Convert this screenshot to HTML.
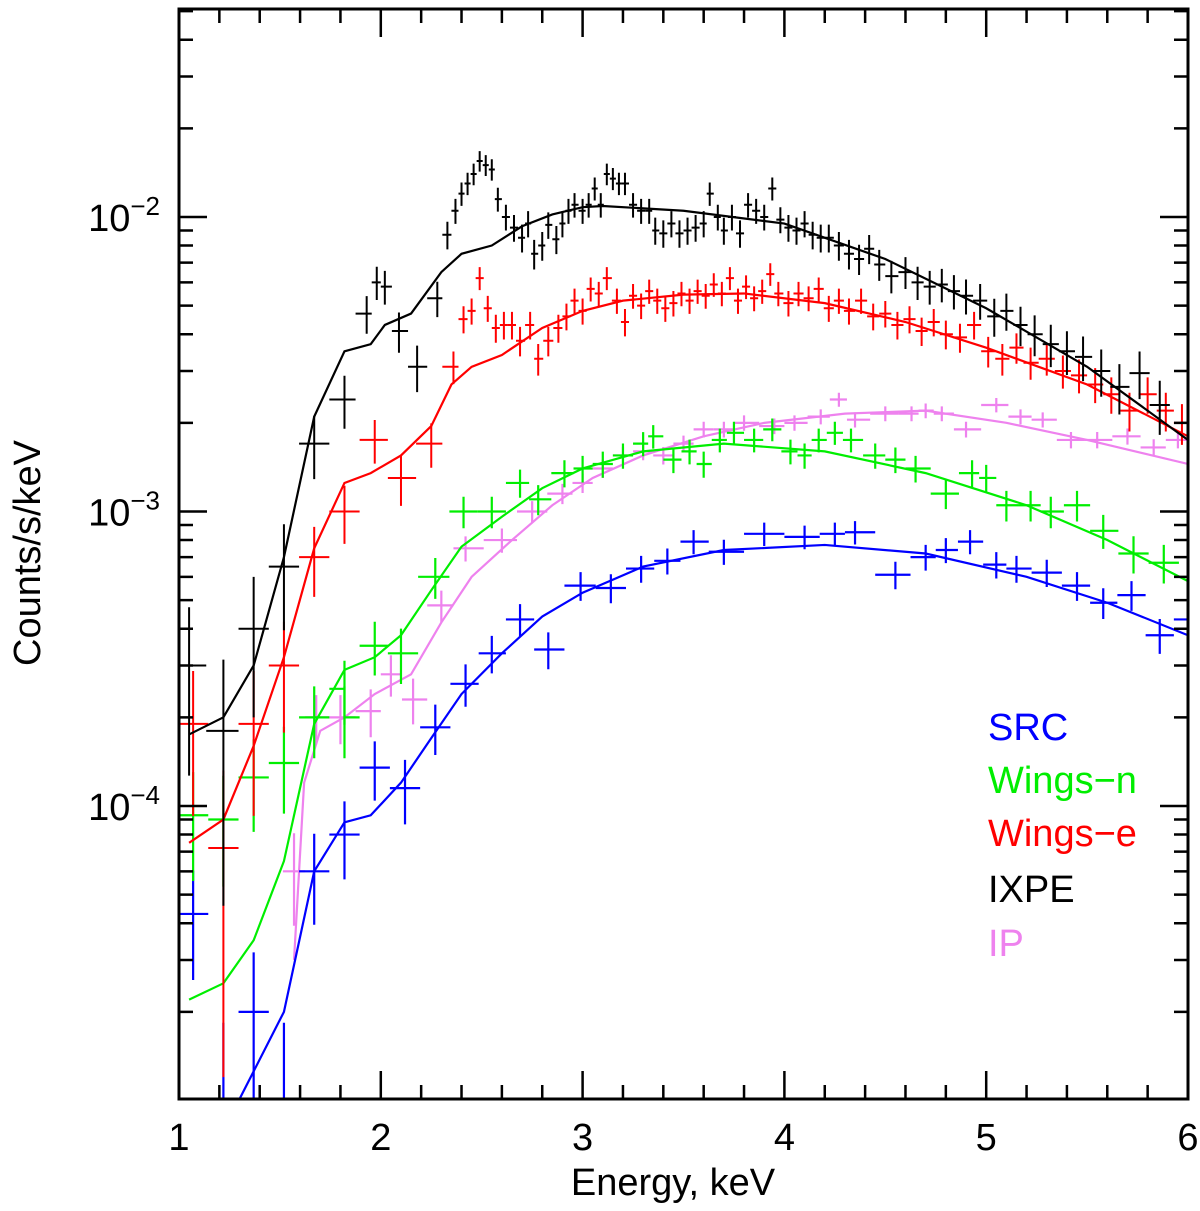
<!DOCTYPE html>
<html><head><meta charset="utf-8"><style>
html,body{margin:0;padding:0;background:#fff;width:1200px;height:1211px;overflow:hidden;}
svg{display:block;font-family:"Liberation Sans","DejaVu Sans",sans-serif;}
</style></head><body>
<svg id="chart" width="1200" height="1211" viewBox="0 0 1200 1211">
<g id="marks"></g>
<g id="axes"></g>
<text x="673" y="1195" font-size="38" text-anchor="middle">Energy, keV</text>
<text transform="translate(40,553) rotate(-90)" font-size="38" text-anchor="middle">Counts/s/keV</text>
<g font-size="38">
<text x="988" y="740" fill="#0000ff">SRC</text>
<text x="988" y="793" fill="#00ee00">Wings−n</text>
<text x="988" y="846" fill="#ff0000">Wings−e</text>
<text x="988" y="902" fill="#000000">IXPE</text>
<text x="988" y="956" fill="#ee82ee">IP</text>
</g>
</svg>
<script>
const xTicks=[1,2,3,4,5,6];
const yTickExp=[-2,-3,-4];
const ixpeE=[1.05,1.22,1.37,1.52,1.67,1.82,1.93,1.98,2.02,2.09,2.18,2.28,2.33,2.37,2.40,2.43,2.46,2.49,2.52,2.55,2.58,2.62,2.66,2.70,2.73,2.76,2.80,2.83,2.87,2.90,2.93,2.96,3.0,3.03,3.06,3.09,3.12,3.15,3.18,3.21,3.25,3.29,3.33,3.36,3.40,3.44,3.48,3.52,3.56,3.60,3.63,3.67,3.70,3.74,3.78,3.82,3.86,3.90,3.94,3.98,4.02,4.06,4.10,4.14,4.18,4.22,4.27,4.32,4.37,4.42,4.47,4.53,4.60,4.66,4.72,4.78,4.84,4.90,4.97,5.04,5.10,5.17,5.24,5.32,5.40,5.48,5.57,5.66,5.76,5.86];
const ixpeV=[3.0e-4,1.8e-4,4e-4,6.5e-4,1.7e-3,2.4e-3,4.7e-3,6e-3,5.8e-3,4.1e-3,3.1e-3,5.3e-3,8.7e-3,1.05e-2,1.2e-2,1.3e-2,1.4e-2,1.55e-2,1.5e-2,1.45e-2,1.15e-2,1.0e-2,9.2e-3,8.5e-3,9.5e-3,7.5e-3,8e-3,9.4e-3,8.4e-3,9.5e-3,1.05e-2,1.1e-2,1.05e-2,1.1e-2,1.25e-2,1.1e-2,1.4e-2,1.35e-2,1.3e-2,1.3e-2,1.1e-2,1.05e-2,1.05e-2,9e-3,8.8e-3,9.5e-3,8.8e-3,9e-3,9.2e-3,9.5e-3,1.2e-2,1.0e-2,9e-3,1.0e-2,8.8e-3,1.1e-2,1.05e-2,1.0e-2,1.25e-2,9.8e-3,9.2e-3,9e-3,9.5e-3,8.7e-3,8.5e-3,8.5e-3,8.0e-3,7.5e-3,7.2e-3,7.8e-3,6.9e-3,6.3e-3,6.5e-3,6.0e-3,5.8e-3,5.9e-3,5.6e-3,5.4e-3,5.2e-3,4.6e-3,4.8e-3,4.3e-3,4.0e-3,3.7e-3,3.5e-3,3.35e-3,3.0e-3,2.65e-3,2.95e-3,2.3e-3];
const ixpeModelE=[1.05,1.22,1.37,1.52,1.67,1.82,1.95,2.02,2.15,2.3,2.4,2.55,2.7,2.85,3.0,3.1,3.5,4.0,4.5,5.0,5.5,6.0];
const ixpeModelV=[1.75e-4,2e-4,3e-4,7e-4,2.1e-3,3.5e-3,3.7e-3,4.3e-3,4.7e-3,6.5e-3,7.5e-3,8e-3,9.3e-3,1.02e-2,1.08e-2,1.09e-2,1.05e-2,9.5e-3,7.2e-3,4.9e-3,3.1e-3,1.75e-3];
const redE=[1.07,1.22,1.37,1.52,1.67,1.82,1.97,2.1,2.25,2.36,2.41,2.45,2.49,2.53,2.57,2.61,2.65,2.69,2.74,2.78,2.83,2.88,2.92,2.96,3.0,3.04,3.08,3.12,3.17,3.21,3.25,3.29,3.33,3.37,3.41,3.45,3.49,3.53,3.57,3.61,3.65,3.69,3.73,3.77,3.81,3.85,3.89,3.93,3.97,4.02,4.07,4.12,4.17,4.22,4.27,4.32,4.38,4.44,4.5,4.56,4.62,4.68,4.74,4.8,4.87,4.94,5.01,5.08,5.15,5.22,5.3,5.38,5.46,5.54,5.62,5.71,5.8,5.89,5.97];
const redV=[1.9e-4,7.2e-5,1.9e-4,3e-4,7e-4,1e-3,1.75e-3,1.3e-3,1.7e-3,3.1e-3,4.5e-3,4.8e-3,6.2e-3,4.9e-3,4.2e-3,4.3e-3,4.3e-3,3.8e-3,4.3e-3,3.3e-3,3.8e-3,4.2e-3,4.6e-3,5.2e-3,4.8e-3,5.7e-3,5.5e-3,6.2e-3,5.2e-3,4.4e-3,5.4e-3,5.0e-3,5.6e-3,5.2e-3,4.9e-3,5.1e-3,5.5e-3,5.2e-3,5.6e-3,5.4e-3,5.9e-3,5.5e-3,6.2e-3,5.2e-3,5.8e-3,5.3e-3,5.6e-3,6.4e-3,5.5e-3,5.1e-3,5.5e-3,5.3e-3,5.7e-3,4.9e-3,5.2e-3,4.8e-3,5.2e-3,4.6e-3,4.7e-3,4.3e-3,4.5e-3,4.1e-3,4.4e-3,4.0e-3,3.9e-3,4.3e-3,3.5e-3,3.3e-3,3.6e-3,3.2e-3,3.3e-3,3.0e-3,2.9e-3,2.7e-3,2.5e-3,2.2e-3,2.5e-3,2.2e-3,2.0e-3];
const redModelE=[1.05,1.22,1.37,1.52,1.67,1.82,1.95,2.1,2.25,2.35,2.45,2.6,2.8,3.0,3.2,3.5,3.8,4.2,4.6,5.0,5.5,6.0];
const redModelV=[7.5e-5,9e-5,1.6e-4,3.2e-4,7.5e-4,1.25e-3,1.35e-3,1.55e-3,1.95e-3,2.7e-3,3.1e-3,3.4e-3,4.2e-3,4.8e-3,5.2e-3,5.45e-3,5.5e-3,5.1e-3,4.4e-3,3.6e-3,2.7e-3,1.8e-3];
const greenE=[1.07,1.22,1.37,1.52,1.67,1.82,1.82,1.97,2.1,2.27,2.41,2.55,2.69,2.78,2.91,3.0,3.1,3.2,3.3,3.35,3.45,3.53,3.6,3.68,3.75,3.85,3.94,4.03,4.1,4.17,4.25,4.33,4.45,4.55,4.65,4.8,4.93,5.0,5.1,5.22,5.32,5.45,5.58,5.73,5.88];
const greenV=[9.3e-5,9e-5,1.25e-4,1.4e-4,2.0e-4,2.5e-4,2e-4,3.5e-4,3.3e-4,6e-4,1e-3,1e-3,1.25e-3,1.1e-3,1.35e-3,1.4e-3,1.45e-3,1.55e-3,1.7e-3,1.8e-3,1.5e-3,1.6e-3,1.45e-3,1.75e-3,1.85e-3,1.75e-3,1.9e-3,1.6e-3,1.55e-3,1.75e-3,1.85e-3,1.75e-3,1.55e-3,1.5e-3,1.4e-3,1.15e-3,1.35e-3,1.3e-3,1.05e-3,1.05e-3,1.0e-3,1.05e-3,8.6e-4,7.2e-4,6.7e-4];
const greenModelE=[1.05,1.22,1.37,1.52,1.67,1.82,1.97,2.1,2.25,2.4,2.6,2.8,3.0,3.3,3.7,4.2,4.7,5.2,5.6,6.0];
const greenModelV=[2.2e-5,2.5e-5,3.5e-5,6.5e-5,1.9e-4,2.9e-4,3.2e-4,3.8e-4,5.4e-4,7.6e-4,9.6e-4,1.2e-3,1.4e-3,1.6e-3,1.7e-3,1.6e-3,1.35e-3,1.05e-3,8e-4,5.8e-4];
const ipE=[1.57,1.68,1.8,1.95,2.05,2.16,2.3,2.42,2.6,2.75,2.9,3.0,3.1,3.2,3.3,3.4,3.5,3.6,3.7,3.8,3.95,4.05,4.18,4.27,4.35,4.5,4.63,4.7,4.78,4.9,5.05,5.17,5.28,5.42,5.55,5.7,5.83,5.95];
const ipV=[6e-5,2e-4,2e-4,2.1e-4,2.8e-4,2.3e-4,4.8e-4,7.5e-4,8e-4,1.0e-3,1.15e-3,1.25e-3,1.4e-3,1.55e-3,1.6e-3,1.55e-3,1.7e-3,1.9e-3,1.9e-3,2e-3,1.95e-3,2e-3,2.1e-3,2.4e-3,2.05e-3,2.15e-3,2.15e-3,2.2e-3,2.15e-3,1.9e-3,2.3e-3,2.1e-3,2.05e-3,1.75e-3,1.75e-3,1.8e-3,1.65e-3,1.75e-3];
const ipModelE=[1.57,1.62,1.7,1.82,1.97,2.15,2.3,2.45,2.65,2.85,3.05,3.3,3.6,3.9,4.3,4.7,5.1,5.5,6.0];
const ipModelV=[3e-5,1.2e-4,1.8e-4,2e-4,2.4e-4,2.8e-4,4.2e-4,6e-4,8e-4,1.05e-3,1.3e-3,1.55e-3,1.8e-3,2e-3,2.15e-3,2.2e-3,2e-3,1.75e-3,1.45e-3];
const blueE=[1.07,1.22,1.37,1.52,1.67,1.82,1.97,2.12,2.27,2.42,2.55,2.69,2.83,2.99,3.14,3.29,3.42,3.55,3.7,3.9,4.1,4.25,4.35,4.55,4.7,4.8,4.92,5.05,5.15,5.3,5.45,5.58,5.72,5.86,6.0];
const blueV=[4.3e-5,1e-5,2e-5,1e-5,6e-5,8e-5,1.35e-4,1.15e-4,1.85e-4,2.6e-4,3.3e-4,4.3e-4,3.4e-4,5.6e-4,5.5e-4,6.4e-4,6.8e-4,7.9e-4,7.3e-4,8.4e-4,8.2e-4,8.4e-4,8.5e-4,6.1e-4,7.0e-4,7.4e-4,7.9e-4,6.6e-4,6.4e-4,6.2e-4,5.6e-4,4.9e-4,5.2e-4,3.8e-4,4.3e-4];
const blueModelE=[1.3,1.52,1.67,1.82,1.95,2.1,2.25,2.4,2.6,2.8,3.0,3.3,3.7,4.2,4.7,5.2,5.6,6.0];
const blueModelV=[1e-5,2e-5,6e-5,8.8e-5,9.3e-5,1.2e-4,1.7e-4,2.4e-4,3.3e-4,4.4e-4,5.3e-4,6.5e-4,7.4e-4,7.7e-4,7.2e-4,6e-4,4.9e-4,3.8e-4];

const L=179,R=1188,T=9,B=1099;
const X=e=>L+(e-1)*(R-L)/5;
const Y=v=>217-(Math.log10(v)+2)*294.5;
const cx=x=>Math.max(L,Math.min(R,x));
const cy=y=>Math.max(T,Math.min(B,y));
const ns="http://www.w3.org/2000/svg";
const marks=document.getElementById('marks');
const axes=document.getElementById('axes');
function mk(tag,attrs,parent){const el=document.createElementNS(ns,tag);for(const k in attrs)el.setAttribute(k,attrs[k]);parent.appendChild(el);return el;}
const defs=mk('defs',{},marks);
const cp=mk('clipPath',{id:'clip'},defs);
mk('rect',{x:L,y:T,width:R-L,height:B-T},cp);
const g=mk('g',{'clip-path':'url(#clip)'},marks);

function series(name,color,E,V,ME,MV,c,ref,sw){
  const sg=mk('g',{stroke:color,'stroke-width':sw,fill:'none'},g);
  
  
  for(let i=0;i<E.length;i++){
    const lo=i>0?(E[i]-E[i-1])/2:(E[1]-E[0])/2;
    const hi=i<E.length-1?(E[i+1]-E[i])/2:lo;
    const rel=Math.min(0.9,c*Math.sqrt(ref/V[i]));
    const yc=cy(Y(V[i]));
    const p=mk('path',{d:`M${cx(X(E[i]-lo))},${yc}H${cx(X(E[i]+hi))}M${cx(X(E[i]))},${cy(Y(V[i]*(1+rel)))}V${cy(Y(V[i]*(1-rel)))}`},sg);
    
    
  }
  const m=mk('polyline',{points:ME.map((e,i)=>cx(X(e))+','+cy(Y(MV[i]))).join(' '),'stroke-width':2.2},sg);
  
  
}
series('ip','#ee82ee',ipE,ipV,ipModelE,ipModelV,0.06,2e-3,2.2);
series('src','#0000ff',blueE,blueV,blueModelE,blueModelV,0.1,7e-4,2.2);
series('wings-n','#00ee00',greenE,greenV,greenModelE,greenModelV,0.1,1.5e-3,2.2);
series('wings-e','#ff0000',redE,redV,redModelE,redModelV,0.1,5e-3,2);
series('ixpe','#000000',ixpeE,ixpeV,ixpeModelE,ixpeModelV,0.1,1e-2,2);

const fr=mk('rect',{x:L,y:T,width:R-L,height:B-T,fill:'none',stroke:'#000','stroke-width':3},axes);


let d='';
for(let e=1;e<=6.001;e+=0.2){
  const maj=Math.abs(e-Math.round(e))<1e-6;const len=maj?28:14;
  d+=`M${X(e)},${B}v${-len}M${X(e)},${T}v${len}`;
}
for(let ex=-5;ex<=-1;ex++){for(let k=1;k<=9;k++){const v=k*Math.pow(10,ex);const y=Y(v);if(y<T||y>B)continue;const len=k===1?28:14;d+=`M${L},${y}h${len}M${R},${y}h${-len}`;}}
const tk=mk('path',{d:d,stroke:'#000','stroke-width':2.5,fill:'none'},axes);


xTicks.forEach(e=>{const t=mk('text',{x:X(e),y:1150,'font-size':38,'text-anchor':'middle'},axes);t.textContent=e;

});
yTickExp.forEach(ex=>{const t=mk('text',{x:160,y:Y(Math.pow(10,ex))+14,'font-size':38,'text-anchor':'end'},axes);


t.textContent='10';const s=mk('tspan',{'font-size':26,dy:-16},t);s.textContent='−'+(-ex);});
</script>
</body></html>
